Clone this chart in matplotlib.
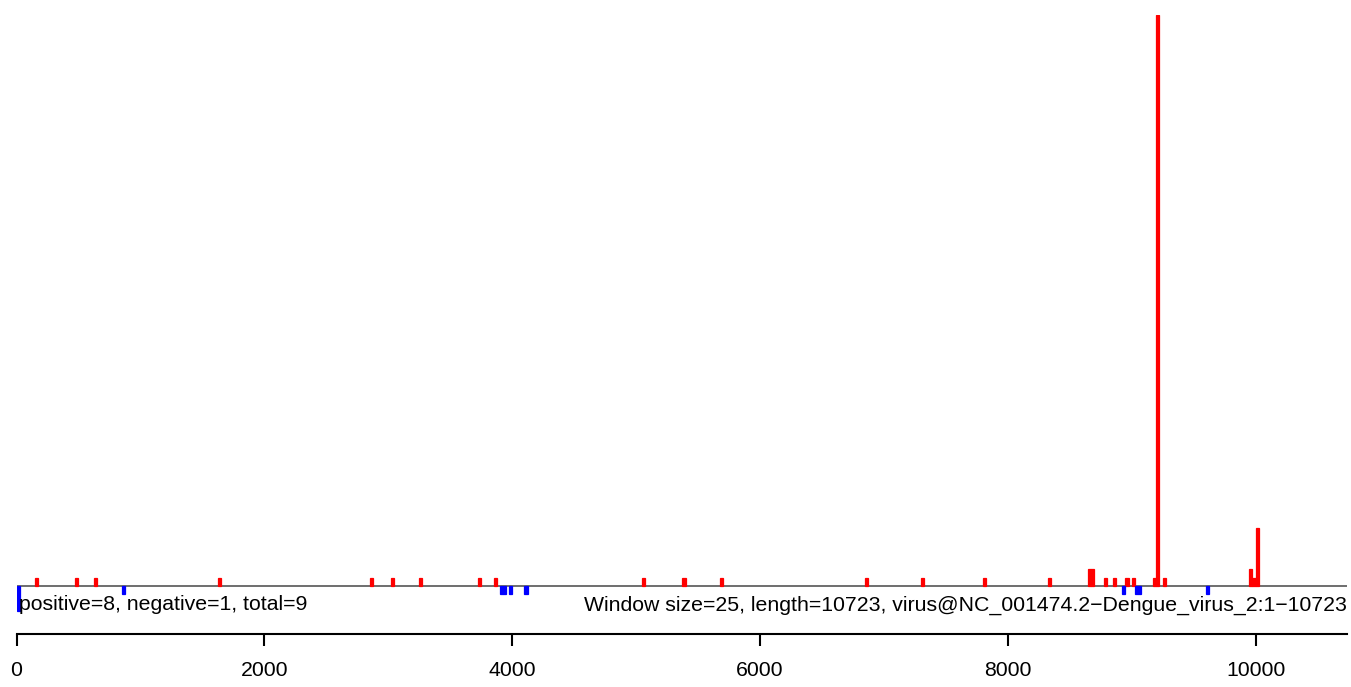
import matplotlib
matplotlib.use('Agg')
from matplotlib import pyplot as plt

# 窗口计数数据（窗口大小 25）
window = 25
seq_len = 10723
pos_start = [150, 475, 625, 1625, 2850, 3025, 3250, 3725, 3850, 5050, 5375, 5675,
             6850, 7300, 7800, 8325, 8650, 8675, 8775, 8850, 8950, 9000, 9175,
             9200, 9250, 9950, 9975, 10000]
pos_count = [1, 1, 1, 1, 1, 1, 1, 1, 1, 1, 1, 1,
             1, 1, 1, 1, 2, 2, 1, 1, 1, 1, 1,
             69, 1, 2, 1, 7]
neg_start = [0, 850, 3900, 3925, 3975, 4100, 8925, 9025, 9050, 9600]
neg_count = [3, 1, 1, 1, 1, 1, 1, 1, 1, 1]
xticks = [0, 2000, 4000, 6000, 8000, 10000]

left_txt = 'positive=8, negative=1, total=9'
right_txt = 'Window size=25, length=10723, virus@NC_001474.2\u2212Dengue_virus_2:1\u221210723'

plt.rcParams['font.family'] = ['Liberation Sans', 'DejaVu Sans']

W, H = 1351, 687
fig = plt.figure(figsize=(W / 100, H / 100), dpi=100)
x0, x1 = 16.5, 1347
y_top, y_bot = 15, 634
ax = fig.add_axes([x0 / W, 1 - y_bot / H, (x1 - x0) / W, (y_bot - y_top) / H])

unit = (586 - y_top) / 69.0
ax.set_xlim(0, (x1 - x0) / 0.1239)
ax.set_ylim(-(y_bot - 586) / unit, 69)

ax.bar(pos_start, pos_count, width=window, align='edge', color='#FF0000',
       edgecolor='#FF0000', linewidth=0.9)
ax.bar(neg_start, [-c for c in neg_count], width=window, align='edge', color='#0000FF',
       edgecolor='#0000FF', linewidth=0.9)
ax.axhline(0, color='#555555', lw=1.2, zorder=0)

fs = 15.35
ax.text(20, -(605 - 586) / unit, left_txt, ha='left', va='center', fontsize=fs)
ax.text(ax.get_xlim()[1], -(605 - 586) / unit, right_txt, ha='right', va='center', fontsize=fs)

for s in ['top', 'right', 'left']:
    ax.spines[s].set_visible(False)
ax.spines['bottom'].set_linewidth(1.5)
ax.spines['bottom'].set_bounds(0, ax.get_xlim()[1])
ax.set_yticks([])
ax.set_xticks(xticks)
ax.set_xticklabels([str(t) for t in xticks])
ax.tick_params(axis='x', length=8.6, width=1.5, pad=10.5, labelsize=fs)

fig.savefig('out.png', dpi=100)
